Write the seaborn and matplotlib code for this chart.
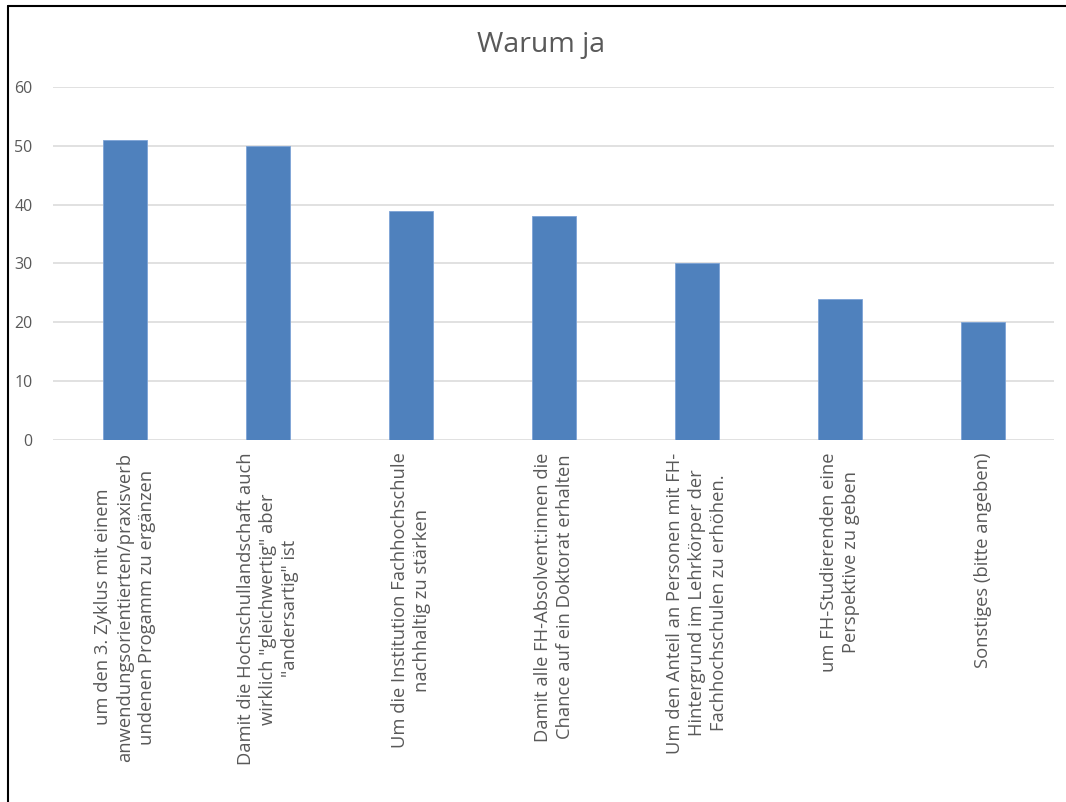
import matplotlib.pyplot as plt
import pandas as pd
import seaborn as sns
from matplotlib.lines import Line2D

labels = [
    "um den 3. Zyklus mit einem\nanwendungsorientierten/praxisverb\nundenen Progamm zu ergänzen",
    "Damit die Hochschullandschaft auch\nwirklich \"gleichwertig\" aber\n\"andersartig\" ist",
    "Um die Institution Fachhochschule\nnachhaltig zu stärken",
    "Damit alle FH-Absolvent:innen die\nChance auf ein Doktorat erhalten",
    "Um den Anteil an Personen mit FH-\nHintergrund im Lehrkörper der\nFachhochschulen zu erhöhen.",
    "um FH-Studierenden eine\nPerspektive zu geben",
    "Sonstiges (bitte angeben)",
]
values = [51, 50, 39, 38, 30, 24, 20]
yticks = [0, 10, 20, 30, 40, 50, 60]

df = pd.DataFrame({"label": labels, "value": values})

sns.set_style("white")
plt.rcParams["font.family"] = ["Open Sans", "DejaVu Sans"]
text_col = "#595959"

fig = plt.figure(figsize=(10.66, 8.02), dpi=100)
ax = fig.add_axes([0.050, 0.4514, 0.939, 0.4401])

sns.barplot(data=df, x="label", y="value", color="#4F81BD", width=0.31,
            saturation=1, edgecolor="#7da3d6", linewidth=0.6, ax=ax, zorder=3)

ax.set_ylim(0, 60)
ax.set_yticks(yticks)
ax.yaxis.grid(True, color="#d9d9d9", linewidth=1.1, zorder=0)
ax.set_axisbelow(True)
for s in ax.spines.values():
    s.set_visible(False)
ax.set_xlabel("")
ax.set_ylabel("")
ax.tick_params(axis="both", length=0, colors=text_col, labelsize=11.5)
ax.tick_params(axis="y", pad=15)
ax.set_xticks(range(len(labels)))
ax.set_xticklabels(labels, rotation=90, ha="center", va="top",
                   multialignment="center", fontsize=13.2, color=text_col,
                   linespacing=1.3)
ax.tick_params(axis="x", pad=9)

fig.text(0.508, 0.944, "Warum ja", ha="center", va="center",
         fontsize=20.5, color=text_col)

# outer frame (top and left edges visible)
fig.add_artist(Line2D([0.0075, 1.0], [0.9925, 0.9925], color="black", linewidth=1.5,
                      transform=fig.transFigure))
fig.add_artist(Line2D([0.0075, 0.0075], [0.0, 0.9925], color="black", linewidth=1.5,
                      transform=fig.transFigure))

fig.savefig("out.png", dpi=100, facecolor="white")
